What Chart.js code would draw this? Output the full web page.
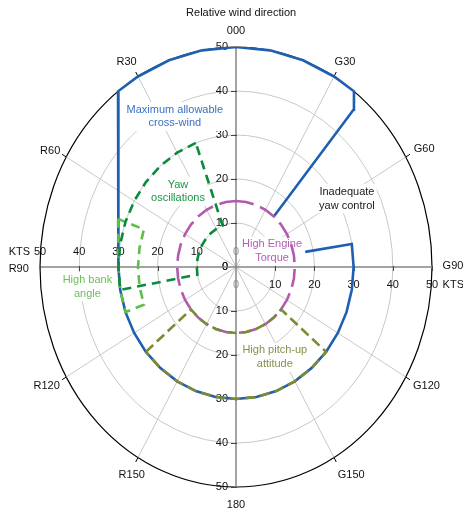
<!DOCTYPE html>
<html>
<head>
<meta charset="utf-8">
<script src="https://cdn.jsdelivr.net/npm/chart.js@4/dist/chart.umd.min.js"></script>
<style>
  html, body { margin: 0; padding: 0; background: #fff; }
  #wrap { width: 463px; height: 511px; }
</style>
</head>
<body>
<div id="wrap"><canvas id="wind" width="463" height="511"></canvas></div>
<script>
// Relative wind direction in degrees (G = positive / clockwise, R = negative), wind speed in knots.
const ringSpeeds = [10, 20, 30, 40, 50];
const tickValues = [0, 10, 20, 30, 40, 50];
const directionAngles = [0, 30, 60, 90, 120, 150, 180, -150, -120, -90, -60, -30];
const directionNames = ['000', 'G30', 'G60', 'G90', 'G120', 'G150', '180', 'R150', 'R120', 'R90', 'R60', 'R30'];

// Maximum allowable cross-wind
const crossWindAngles = [40, 40, 37, 30, 20, 10, 0, -10, -20, -30, -37, -90, -100, -110, -120, -130, -140, -150, -160, -170, 180, 170, 160, 150, 140, 130, 120, 110, 100, 90, 80, 79];
const crossWindSpeeds = [15, 46.7, 50, 50, 50, 50, 50, 50, 50, 50, 50, 30, 30, 30, 30, 30, 30, 30, 30, 30, 30, 30, 30, 30, 30, 30, 30, 30, 30, 30, 30, 18];

// Yaw oscillations
const yawAngles = [-20, -30, -40, -50, -60, -70, -80, -90, -100, -100, -90, -80, -70, -60, -50, -40, -30, -20, -20];
const yawSpeeds = [30, 30, 30, 30, 30, 30, 30, 30, 30, 10, 10, 10, 10, 10, 10, 10, 10, 10, 30];

// High bank angle
const bankAngles = [-70, -80, -90, -100, -110, -110, -100, -90, -80, -70, -70];
const bankSpeeds = [32, 30.5, 30, 30, 30, 25, 25, 25, 25, 25, 32];

// High engine torque
const torqueAngles = [0, 10, 20, 30, 40, 50, 60, 70, 80, 90, 100, 110, 120, 130, 140, 150, 160, 170, 180, -170, -160, -150, -140, -130, -120, -110, -100, -90, -80, -70, -60, -50, -40, -30, -20, -10, 0];
const torqueSpeeds = [15, 15, 15, 15, 15, 15, 15, 15, 15, 15, 15, 15, 15, 15, 15, 15, 15, 15, 15, 15, 15, 15, 15, 15, 15, 15, 15, 15, 15, 15, 15, 15, 15, 15, 15, 15, 15];

// High pitch-up attitude
const pitchAngles = [-130, -130, -140, -150, -160, -170, 180, 170, 160, 150, 140, 130, 130, 140, 150, 160, 170, 180, -170, -160, -150, -140, -130];
const pitchSpeeds = [30, 15, 15, 15, 15, 15, 15, 15, 15, 15, 15, 15, 30, 30, 30, 30, 30, 30, 30, 30, 30, 30, 30];

const seriesNames = ['Maximum allowable cross-wind', 'Yaw oscillations', 'High bank angle', 'High Engine Torque', 'High pitch-up attitude'];

const RAD = Math.PI / 180;
function polarPoints(angles, speeds) {
  return angles.map((a, i) => ({ x: speeds[i] * Math.sin(a * RAD), y: speeds[i] * Math.cos(a * RAD) }));
}

const FONT = "11px 'Liberation Sans', Arial, sans-serif";

// Placement (in knots on the x/y scales) of the direction names around the rim
const directionLabelSpots = {
  '000': [0, 53.7], 'G30': [27.8, 46.5], 'G60': [48.0, 26.8], 'G120': [48.6, -27.0],
  'G150': [29.4, -47.3], '180': [0, -54.1], 'R150': [-26.6, -47.3], 'R120': [-48.3, -27.0],
  'R60': [-47.4, 26.4], 'R30': [-27.9, 46.5]
};

// Series annotations: text lines, colour, centre (knots)
const annotations = [
  { lines: ['Maximum allowable', 'cross-wind'], color: '#3a72c2', at: [-15.6, 34.2] },
  { lines: ['Yaw', 'oscillations'], color: '#1e9448', at: [-14.8, 17.2] },
  { lines: ['Inadequate', 'yaw control'], color: '#1a1a1a', at: [28.3, 15.5] },
  { lines: ['High Engine', 'Torque'], color: '#b65cb3', at: [9.2, 3.6] },
  { lines: ['High bank', 'angle'], color: '#68c257', at: [-37.9, -4.5] },
  { lines: ['High pitch-up', 'attitude'], color: '#84914a', at: [9.9, -20.5] }
];

const polarGrid = {
  id: 'polarGrid',
  beforeDatasetsDraw(chart) {
    const { ctx, scales: { x, y } } = chart;
    const cx = x.getPixelForValue(0), cy = y.getPixelForValue(0);
    const toPx = (s, a) => [x.getPixelForValue(s * Math.sin(a * RAD)), y.getPixelForValue(s * Math.cos(a * RAD))];
    ctx.save();

    // speed rings
    ringSpeeds.forEach(r => {
      const rx = x.getPixelForValue(r) - cx;
      const ry = cy - y.getPixelForValue(r);
      ctx.beginPath();
      ctx.ellipse(cx, cy, rx, ry, 0, 0, Math.PI * 2);
      ctx.strokeStyle = r === 50 ? '#000' : '#c8c8c8';
      ctx.lineWidth = r === 50 ? 1.2 : 1;
      ctx.stroke();
    });

    // direction spokes with a short tick outside the rim
    directionAngles.forEach(a => {
      if (a % 90 === 0) return;
      const [ex, ey] = toPx(50, a);
      ctx.beginPath();
      ctx.moveTo(cx, cy);
      ctx.lineTo(ex, ey);
      ctx.strokeStyle = '#c8c8c8';
      ctx.lineWidth = 1;
      ctx.stroke();
      const dx = ex - cx, dy = ey - cy, len = Math.hypot(dx, dy);
      ctx.beginPath();
      ctx.moveTo(ex, ey);
      ctx.lineTo(ex + dx / len * 5, ey + dy / len * 5);
      ctx.strokeStyle = '#000';
      ctx.stroke();
    });

    // tick labels along the axes
    ctx.font = FONT;
    ctx.fillStyle = '#111';
    ctx.textBaseline = 'middle';
    ctx.textAlign = 'right';
    tickValues.forEach(v => {
      ctx.fillText(String(v), cx - 8, y.getPixelForValue(v));
      ctx.fillText(String(v), cx - 8, y.getPixelForValue(-v));
    });
    ctx.textAlign = 'center';
    tickValues.forEach(v => {
      ctx.fillStyle = v === 0 ? '#9a9a9a' : '#111';
      ctx.fillText(String(v), x.getPixelForValue(-v), cy - 15);
      ctx.fillText(String(v), x.getPixelForValue(v), cy + 17.5);
    });

    // main axes
    ctx.strokeStyle = '#858585';
    ctx.lineWidth = 1.5;
    ctx.beginPath();
    ctx.moveTo(cx, y.getPixelForValue(50));
    ctx.lineTo(cx, y.getPixelForValue(-50));
    ctx.moveTo(x.getPixelForValue(-50), cy);
    ctx.lineTo(x.getPixelForValue(50), cy);
    ctx.stroke();
    ctx.strokeStyle = '#444';
    ctx.lineWidth = 1;
    ctx.beginPath();
    tickValues.forEach(v => {
      if (v === 0) return;
      [v, -v].forEach(t => {
        const ty = Math.round(y.getPixelForValue(t)) + 0.5;
        ctx.moveTo(cx - 5, ty); ctx.lineTo(cx + 1, ty);
        const tx = Math.round(x.getPixelForValue(t)) + 0.5;
        ctx.moveTo(tx, cy - 1); ctx.lineTo(tx, cy + 4);
      });
    });
    ctx.stroke();

    // direction names
    ctx.fillStyle = '#111';
    ctx.textAlign = 'center';
    directionNames.forEach(name => {
      const spot = directionLabelSpots[name];
      if (!spot) return;
      ctx.fillText(name, x.getPixelForValue(spot[0]), y.getPixelForValue(spot[1]));
    });
    // side labels with the KTS unit
    ctx.textAlign = 'left';
    const leftX = x.getPixelForValue(-58.0), rightX = x.getPixelForValue(52.7);
    ctx.fillText('KTS', leftX, cy - 15);
    ctx.fillText(directionNames[9], leftX, cy + 1.5);
    ctx.fillText(directionNames[3], rightX, cy - 1.5);
    ctx.fillText('KTS', rightX, cy + 18);

    // chart heading
    ctx.textAlign = 'center';
    ctx.fillText('Relative wind direction', x.getPixelForValue(1.3), y.getPixelForValue(57.8));

    // series annotations on white backing
    const lineH = 13.6;
    annotations.forEach(a => {
      const ax = x.getPixelForValue(a.at[0]), ay = y.getPixelForValue(a.at[1]);
      const w = Math.max(...a.lines.map(l => ctx.measureText(l).width));
      const h = lineH * a.lines.length;
      ctx.fillStyle = '#fff';
      ctx.fillRect(ax - w / 2 - 2, ay - h / 2 - 1, w + 4, h + 2);
      ctx.fillStyle = a.color;
      a.lines.forEach((l, i) => {
        ctx.fillText(l, ax, ay - h / 2 + lineH * (i + 0.5));
      });
    });
    ctx.restore();
  }
};

function lineSet(label, data, color, width, dash, order) {
  return {
    label, data,
    showLine: true, fill: false, tension: 0,
    borderColor: color, backgroundColor: color,
    borderWidth: width, borderDash: dash,
    borderJoinStyle: 'miter', borderCapStyle: 'butt',
    pointRadius: 0, pointHoverRadius: 0,
    order
  };
}

new Chart(document.getElementById('wind'), {
  type: 'scatter',
  data: {
    datasets: [
      lineSet(seriesNames[0], polarPoints(crossWindAngles, crossWindSpeeds), '#1f5fb1', 2.6, [], 5),
      lineSet(seriesNames[2], polarPoints(bankAngles, bankSpeeds), '#5cbf48', 2.6, [9, 6], 4),
      lineSet(seriesNames[1], polarPoints(yawAngles, yawSpeeds), '#0b8a3c', 2.6, [9, 6], 3),
      lineSet(seriesNames[3], polarPoints(torqueAngles, torqueSpeeds), '#b25aae', 2.6, [18, 7], 2),
      lineSet(seriesNames[4], polarPoints(pitchAngles, pitchSpeeds), '#7b8a35', 2.6, [10, 5], 1)
    ]
  },
  options: {
    responsive: false,
    animation: false,
    devicePixelRatio: 1,
    layout: { padding: { left: 40, right: 31, top: 47, bottom: 24 } },
    plugins: { legend: { display: false }, tooltip: { enabled: false }, title: { display: false } },
    scales: {
      x: { type: 'linear', min: -50, max: 50, display: false },
      y: { type: 'linear', min: -50, max: 50, display: false }
    }
  },
  plugins: [polarGrid]
});
</script>
</body>
</html>
